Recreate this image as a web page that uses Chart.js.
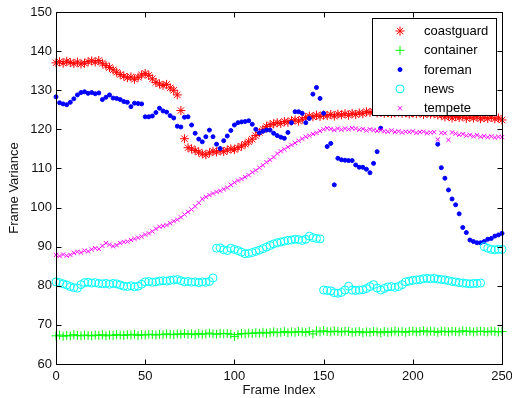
<!DOCTYPE html>
<html><head><meta charset="utf-8">
<script src="https://cdn.jsdelivr.net/npm/chart.js@4.4.1/dist/chart.umd.min.js"></script>
<style>html,body{margin:0;padding:0;background:#fff;}canvas{display:block;}</style>
</head><body>
<canvas id="c" width="512" height="398"></canvas>
<script>
// Frame indices (every 2nd frame, 0..250)
const frames = [];
for (let f = 0; f <= 250; f += 2) frames.push(f);

const seriesNames = ['coastguard', 'container', 'foreman', 'news', 'tempete'];
const xTicks = [0, 50, 100, 150, 200, 250];
const yTicks = [60, 70, 80, 90, 100, 110, 120, 130, 140, 150];

const coastguard = [
137.0,137.3,136.9,137.4,137.1,136.8,137.2,136.7,136.9,137.3,
137.5,137.2,137.6,136.9,136.3,135.8,135.2,134.6,134.0,133.6,
133.2,133.4,132.8,133.3,133.9,134.3,133.8,132.9,132.0,131.6,
131.2,131.5,130.6,130.0,128.8,124.8,117.6,115.3,115.0,114.6,
114.2,113.7,113.5,114.0,114.4,114.2,114.6,114.3,114.7,115.0,
114.8,115.3,115.7,116.2,116.8,117.5,118.4,119.2,120.0,120.7,
121.2,121.4,121.7,121.5,122.0,121.8,122.2,122.4,122.1,122.6,
123.0,123.4,123.2,123.6,123.3,123.7,123.5,123.8,123.4,123.9,
123.7,124.0,123.6,124.1,123.8,124.2,124.0,124.5,124.3,124.6,
124.2,124.4,124.1,124.3,124.0,124.2,124.4,124.1,124.3,123.9,
124.2,124.0,124.3,123.8,124.1,123.9,124.0,123.7,123.6,123.2,
123.4,122.9,123.3,123.0,123.4,122.8,123.1,122.9,123.2,122.7,
123.0,122.8,123.1,122.7,122.9,122.4];

const container = [
67.2,67.4,67.1,67.3,67.2,67.5,67.3,67.2,67.4,67.3,
67.2,67.4,67.3,67.5,67.2,67.4,67.3,67.5,67.4,67.3,
67.5,67.4,67.6,67.3,67.5,67.4,67.6,67.5,67.4,67.6,
67.5,67.7,67.6,67.5,67.7,67.6,67.8,67.6,67.7,67.5,
67.8,67.6,67.7,67.9,67.7,67.6,67.8,67.7,67.8,67.6,
67.0,67.5,67.8,67.7,67.9,67.8,68.0,67.9,68.1,67.9,
68.0,68.2,68.0,68.1,68.3,68.0,68.2,68.1,68.3,68.2,
68.1,68.3,67.7,68.4,68.2,68.5,68.3,68.2,68.4,68.3,
68.2,68.4,68.3,68.1,68.2,68.3,68.0,68.2,68.1,68.3,
68.2,68.0,68.3,68.1,68.2,68.4,68.2,68.3,68.1,68.3,
68.4,68.2,68.3,68.5,68.2,68.4,68.3,68.1,68.4,68.3,
68.2,68.4,68.3,68.2,68.5,68.3,68.4,68.2,68.3,68.4,
68.3,68.2,68.4,68.3,68.2,68.3];

const foreman = [
128.3,126.8,126.5,126.3,126.9,127.8,128.8,129.4,129.6,129.2,
129.4,129.1,129.3,127.6,128.2,128.8,128.0,127.9,127.6,127.1,
126.9,125.8,126.7,126.6,126.5,123.2,123.2,123.4,124.3,125.4,
124.7,124.4,123.5,122.9,120.8,120.6,123.1,123.2,121.1,119.0,
117.5,116.8,118.1,119.8,118.1,116.2,115.1,117.1,118.3,119.7,
121.1,121.7,121.9,122.0,122.2,121.3,120.0,119.1,119.5,119.8,
119.8,119.0,118.4,118.0,117.7,119.2,121.7,124.5,124.5,124.1,
121.7,122.8,129.0,130.7,127.9,124.1,115.6,116.4,105.8,112.6,
112.2,112.1,112.0,112.0,110.9,110.3,110.3,109.8,108.9,111.3,
114.3,120.3,125.0,125.4,125.2,125.6,125.3,125.8,125.5,125.9,
125.6,126.0,125.7,125.4,125.8,125.5,125.2,116.2,110.2,107.5,
104.5,102.2,100.7,98.4,94.9,93.6,91.7,91.3,91.0,91.0,
91.3,91.9,92.1,92.7,93.0,93.4];

const news = [
81.0,80.8,80.5,80.2,79.8,79.5,79.4,80.3,80.8,80.9,
80.7,80.8,80.6,80.5,80.6,80.4,80.6,80.5,80.2,79.9,
79.8,80.0,79.7,79.9,80.4,81.0,81.1,80.9,81.0,81.2,
81.3,81.2,81.4,81.5,81.6,81.3,81.0,81.1,80.9,81.0,
80.8,81.0,80.9,81.1,82.0,89.6,89.7,89.2,89.0,89.6,
89.3,89.0,88.6,88.2,88.3,88.5,88.8,89.1,89.5,89.9,
90.3,90.7,91.0,91.2,91.4,91.6,91.7,91.9,91.8,91.6,
91.9,92.7,92.3,92.1,92.0,78.9,78.8,78.7,78.2,78.1,
78.3,78.9,79.9,78.9,78.8,78.9,79.0,79.3,79.8,80.3,
79.4,78.9,79.3,79.7,79.8,79.6,79.8,80.3,81.0,81.2,
81.4,81.5,81.6,81.8,81.9,81.8,81.9,81.7,81.6,81.5,
81.3,81.1,81.0,80.8,80.7,80.6,80.5,80.6,80.6,80.7,
90.0,89.6,89.3,89.2,89.3,89.3];

const tempete = [
87.9,87.6,88.0,87.7,87.9,88.4,88.7,88.5,89.0,88.8,
89.3,89.6,89.4,90.2,90.9,90.5,90.1,90.4,90.9,91.2,
91.3,91.7,92.0,92.3,92.6,93.1,93.4,93.9,94.6,95.1,
95.3,95.5,96.0,96.5,96.9,97.5,98.2,98.9,99.5,100.3,
101.2,102.2,102.7,103.2,103.6,104.0,104.3,104.7,105.1,105.8,
106.4,106.9,107.3,107.8,108.3,109.0,109.5,110.2,110.8,111.6,
112.2,112.9,113.8,114.4,114.9,115.5,116.0,116.5,117.1,117.6,
118.1,118.4,118.8,119.1,119.6,120.0,120.3,120.1,119.8,120.2,
119.9,120.2,120.0,120.3,120.2,119.9,120.1,119.7,120.0,119.8,
119.6,119.8,119.5,119.4,119.7,119.3,119.5,119.2,119.4,119.3,
119.5,119.1,119.3,119.4,119.0,119.2,119.3,117.4,119.1,119.0,
117.3,119.2,118.9,118.6,118.8,118.4,118.6,118.2,118.5,118.1,
118.3,118.0,118.2,117.9,118.1,118.0];

const styles = [
  {style: 'star', color: '#ff0000', r: 4.5, fill: false},
  {style: 'cross', color: '#00ff00', r: 4.5, fill: false},
  {style: 'circle', color: '#0000ff', r: 2, fill: true},
  {style: 'circle', color: '#00ffff', r: 4, fill: false},
  {style: 'crossRot', color: '#ff00ff', r: 3, fill: false}
];
const allValues = [coastguard, container, foreman, news, tempete];

function pts(vals) { return vals.map((v, i) => ({x: frames[i], y: v})); }

const datasets = allValues.map((vals, i) => ({
  label: seriesNames[i],
  data: pts(vals),
  showLine: false,
  pointStyle: styles[i].style,
  pointRadius: styles[i].r,
  pointBorderWidth: 1,
  borderColor: styles[i].color,
  backgroundColor: styles[i].fill ? styles[i].color : 'rgba(0,0,0,0)',
  pointHoverRadius: styles[i].r,
  order: 4 - i,
  clip: false
}));

const FONT = '"Liberation Sans", Arial, Helvetica, sans-serif';

function drawMarker(ctx, s, x, y) {
  const r = s.r;
  ctx.beginPath();
  ctx.strokeStyle = s.color;
  ctx.fillStyle = s.color;
  ctx.lineWidth = 1;
  if (s.style === 'circle') {
    ctx.arc(x, y, r, 0, Math.PI * 2);
    if (s.fill) ctx.fill();
    ctx.stroke();
    return;
  }
  if (s.style === 'cross' || s.style === 'star') {
    ctx.moveTo(x - r, y); ctx.lineTo(x + r, y);
    ctx.moveTo(x, y - r); ctx.lineTo(x, y + r);
  }
  if (s.style === 'crossRot' || s.style === 'star') {
    const d = r * Math.SQRT1_2;
    ctx.moveTo(x - d, y - d); ctx.lineTo(x + d, y + d);
    ctx.moveTo(x - d, y + d); ctx.lineTo(x + d, y - d);
  }
  ctx.stroke();
}

const framePlugin = {
  id: 'frameBox',
  afterDatasetsDraw(chart) {
    const {ctx, chartArea: a, scales} = chart;
    const xs = scales.x, ys = scales.y;
    ctx.save();
    ctx.strokeStyle = '#000';
    ctx.lineWidth = 1;
    const L = Math.round(a.left) + 0.5, R = Math.round(a.right) + 0.5;
    const T = Math.round(a.top) + 0.5, B = Math.round(a.bottom) + 0.5;
    ctx.strokeRect(L, T, R - L, B - T);
    const tl = 5;
    ctx.beginPath();
    xTicks.forEach(v => {
      const px = Math.round(xs.getPixelForValue(v)) + 0.5;
      ctx.moveTo(px, B); ctx.lineTo(px, B - tl);
      ctx.moveTo(px, T); ctx.lineTo(px, T + tl);
    });
    yTicks.forEach(v => {
      const py = Math.round(ys.getPixelForValue(v)) + 0.5;
      ctx.moveTo(L, py); ctx.lineTo(L + tl, py);
      ctx.moveTo(R, py); ctx.lineTo(R - tl, py);
    });
    ctx.stroke();

    // legend box (inside, top-right)
    const bx = 372.5, by = 18.5, bw = 124, bh = 97;
    ctx.fillStyle = '#fff';
    ctx.fillRect(bx, by, bw, bh);
    ctx.strokeStyle = '#000';
    ctx.strokeRect(bx, by, bw, bh);
    ctx.font = '13px ' + FONT;
    ctx.textBaseline = 'middle';
    ctx.textAlign = 'left';
    seriesNames.forEach((name, i) => {
      const yy = 31 + i * 19.3;
      drawMarker(ctx, styles[i], 400, yy);
      ctx.fillStyle = '#000';
      ctx.fillText(name, 424, yy + 0.5);
    });
    ctx.restore();
  }
};

new Chart(document.getElementById('c'), {
  type: 'scatter',
  data: {datasets},
  options: {
    responsive: false,
    animation: false,
    devicePixelRatio: 1,
    events: [],
    layout: {padding: {top: 12, right: 10, left: 0, bottom: 0}},
    plugins: {legend: {display: false}, tooltip: {enabled: false}},
    scales: {
      x: {
        type: 'linear', min: 0, max: 250,
        afterBuildTicks: s => { s.ticks = xTicks.map(v => ({value: v})); },
        ticks: {font: {family: FONT, size: 13}, color: '#111', padding: 5, maxRotation: 0},
        grid: {display: false, drawTicks: false},
        border: {display: false},
        title: {display: true, text: 'Frame Index', font: {family: FONT, size: 13, lineHeight: 1.2}, color: '#111', padding: {top: 0, bottom: 0}},
        afterFit: s => { s.height = 34; s.paddingLeft = 0; s.paddingRight = 0; }
      },
      y: {
        type: 'linear', min: 60, max: 150,
        afterBuildTicks: s => { s.ticks = yTicks.map(v => ({value: v})); },
        ticks: {font: {family: FONT, size: 13}, color: '#111', padding: 4},
        grid: {display: false, drawTicks: false},
        border: {display: false},
        title: {display: true, text: 'Frame Variance', font: {family: FONT, size: 13, lineHeight: 1.2}, color: '#111', padding: {top: 7, bottom: 0}},
        afterFit: s => { s.width = 56; s.paddingTop = 0; s.paddingBottom = 0; }
      }
    }
  },
  plugins: [framePlugin]
});
</script>
</body></html>
